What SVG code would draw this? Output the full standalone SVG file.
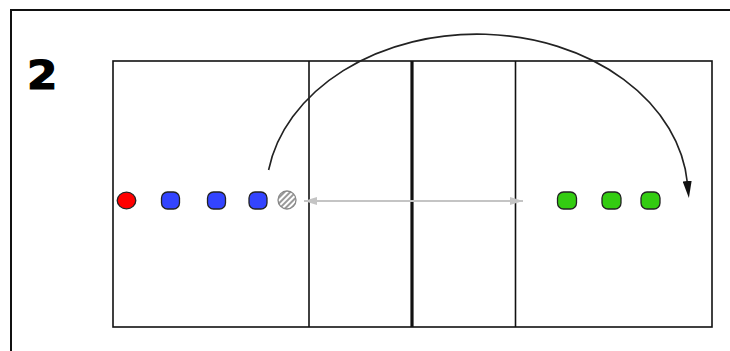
<svg xmlns="http://www.w3.org/2000/svg" width="730" height="351" viewBox="0 0 730 351">
<style>
.line{stroke:#111;stroke-width:1.6;fill:none}
.player{stroke:#222;stroke-width:1.3}
.blue{fill:#3344ff}
.green{fill:#33cc11}
.red{fill:#ff0000}
</style>
<defs>
<pattern id="hatch" width="4" height="4" patternUnits="userSpaceOnUse" patternTransform="rotate(-45)">
<rect width="4" height="4" fill="#fff"/>
<rect width="4" height="2" fill="#999"/>
</pattern>
<marker id="ah" markerWidth="17" markerHeight="9" refX="2" refY="4.5" orient="auto" markerUnits="userSpaceOnUse">
<path d="M0,0 L17,4.5 L0,9 Z" fill="#111"/>
</marker>
<marker id="ga" markerWidth="13" markerHeight="8" refX="13" refY="4" orient="auto-start-reverse" markerUnits="userSpaceOnUse">
<path d="M0,0 L13,4 L0,8 Z" fill="#c4c4c4"/>
</marker>
</defs>
<rect x="0" y="0" width="730" height="351" fill="#fff"/>
<rect x="11" y="10" width="740" height="400" fill="none" stroke="#111" stroke-width="2"/>
<text transform="translate(27,89) scale(1.12,1)" font-family="DejaVu Sans" font-weight="bold" font-size="39" fill="#000" stroke="#000" stroke-width="1.2">2</text>
<g id="court">
<rect x="113" y="61" width="599" height="266" class="line"/>
<line x1="309" y1="61" x2="309" y2="327" class="line"/>
<line x1="412" y1="61" x2="412" y2="327" stroke="#111" stroke-width="3.2"/>
<line x1="515.5" y1="61" x2="515.5" y2="327" class="line"/>
</g>
<g id="connectors">
<line x1="304" y1="201" x2="523" y2="201" stroke="#c4c4c4" stroke-width="1.8" marker-start="url(#ga)" marker-end="url(#ga)"/>
<path d="M268.6,170 A211,161 0 0 1 687.4,183" fill="none" stroke="#222" stroke-width="1.6" marker-end="url(#ah)"/>
</g>
<g id="p-red"><ellipse cx="126.5" cy="200.5" rx="9.3" ry="8.3" class="player red"/></g>
<g id="p-blue1"><rect x="161.5" y="192" width="18" height="17" rx="6" class="player blue"/></g>
<g id="p-blue2"><rect x="207.5" y="192" width="18" height="17" rx="6" class="player blue"/></g>
<g id="p-blue3"><rect x="249" y="192" width="18" height="17" rx="6" class="player blue"/></g>
<g id="ball"><circle cx="287" cy="200" r="9" fill="url(#hatch)" stroke="#888" stroke-width="1.3"/></g>
<g id="p-green1"><rect x="557.5" y="192" width="19" height="17" rx="6" class="player green"/></g>
<g id="p-green2"><rect x="602" y="192" width="19" height="17" rx="6" class="player green"/></g>
<g id="p-green3"><rect x="641" y="192" width="19" height="17" rx="6" class="player green"/></g>
</svg>
